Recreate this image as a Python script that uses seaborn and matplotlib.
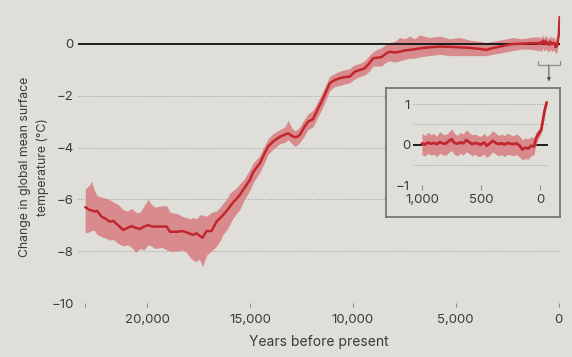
import numpy as np
import pandas as pd
import matplotlib
matplotlib.use("Agg")
import matplotlib.pyplot as plt
import seaborn as sns

# ---------------- data ----------------
years = [23000, 22800, 22700, 22550, 22430, 22200, 22000, 21800, 21630, 21400,
         21150, 20950, 20740, 20540, 20340, 20140, 19940, 19780, 19610, 19300,
         19040, 18880, 18500, 18300, 18070, 17900, 17750, 17590, 17450, 17300,
         17100, 16860, 16620, 16450, 16300, 16100, 15970, 15800, 15650, 15490,
         15300, 15000, 14840, 14510, 14300, 14110, 13850, 13540, 13300, 13140,
         12950, 12820, 12700, 12570, 12350, 12170, 11930, 11720, 11520, 11300,
         11120, 10900, 10630, 10400, 10150, 9900, 9650, 9420, 9200, 9010,
         8800, 8610, 8370, 8200, 7950, 7720, 7480, 7230, 7000, 6750,
         6300, 5780, 5300, 4810, 4300, 3830, 3510, 3200, 2860, 2500,
         2220, 1800, 1410]
temp_mean = [-6.30, -6.40, -6.42, -6.47, -6.44, -6.67, -6.75, -6.86, -6.83, -7.00,
             -7.18, -7.10, -7.03, -7.10, -7.14, -7.05, -6.99, -7.04, -7.05, -7.05,
             -7.05, -7.25, -7.25, -7.22, -7.27, -7.33, -7.37, -7.31, -7.40, -7.48,
             -7.22, -7.22, -6.86, -6.72, -6.60, -6.42, -6.28, -6.10, -5.98, -5.83,
             -5.60, -5.25, -4.95, -4.60, -4.25, -3.95, -3.75, -3.58, -3.50, -3.45,
             -3.55, -3.60, -3.58, -3.51, -3.20, -3.00, -2.90, -2.55, -2.23, -1.85,
             -1.52, -1.40, -1.32, -1.28, -1.26, -1.07, -1.00, -0.94, -0.75, -0.55,
             -0.53, -0.51, -0.36, -0.30, -0.33, -0.30, -0.25, -0.23, -0.20, -0.17,
             -0.13, -0.10, -0.11, -0.13, -0.15, -0.19, -0.23, -0.16, -0.10, -0.04,
             0.00, 0.01, 0.03]
temp_upper = [-5.60, -5.45, -5.30, -5.65, -5.85, -5.92, -5.95, -6.02, -6.10, -6.20,
              -6.40, -6.45, -6.35, -6.50, -6.50, -6.25, -6.00, -6.20, -6.30, -6.25,
              -6.25, -6.50, -6.55, -6.65, -6.70, -6.75, -6.70, -6.75, -6.60, -6.60,
              -6.65, -6.50, -6.45, -6.30, -6.15, -5.95, -5.75, -5.65, -5.55, -5.40,
              -5.25, -4.85, -4.60, -4.30, -3.95, -3.65, -3.45, -3.30, -3.20, -2.95,
              -3.25, -3.35, -3.30, -3.20, -2.90, -2.70, -2.55, -2.25, -1.95, -1.55,
              -1.25, -1.15, -1.05, -1.00, -0.95, -0.80, -0.75, -0.65, -0.45, -0.30,
              -0.20, -0.15, 0.00, 0.05, 0.10, 0.25, 0.20, 0.30, 0.20, 0.35,
              0.25, 0.30, 0.20, 0.25, 0.15, 0.10, 0.05, 0.10, 0.15, 0.20,
              0.25, 0.20, 0.25]
temp_lower = [-7.30, -7.25, -7.20, -7.20, -7.35, -7.45, -7.50, -7.57, -7.55, -7.70,
              -7.80, -7.75, -7.85, -8.05, -7.90, -7.95, -7.75, -7.80, -7.90, -7.85,
              -7.95, -8.00, -8.00, -7.95, -8.05, -8.25, -8.35, -8.40, -8.30, -8.60,
              -8.15, -8.00, -7.80, -7.60, -7.35, -7.15, -6.95, -6.70, -6.55, -6.40,
              -6.05, -5.65, -5.35, -4.95, -4.60, -4.25, -4.05, -3.85, -3.80, -3.70,
              -3.85, -3.95, -3.90, -3.80, -3.55, -3.30, -3.20, -2.85, -2.55, -2.15,
              -1.80, -1.65, -1.60, -1.55, -1.50, -1.35, -1.25, -1.20, -1.05, -0.85,
              -0.85, -0.85, -0.70, -0.65, -0.70, -0.65, -0.60, -0.55, -0.55, -0.50,
              -0.45, -0.40, -0.45, -0.45, -0.45, -0.45, -0.45, -0.40, -0.35, -0.30,
              -0.25, -0.20, -0.20]

# last millennium (inset)
inset_years = [1000, 975, 950, 925, 900, 875, 850, 825, 800, 775, 750, 725, 700,
               675, 650, 625, 600, 575, 550, 525, 500, 475, 450, 425, 400, 375,
               350, 325, 300, 275, 250, 225, 200, 175, 150, 125, 100, 75, 50, 35,
               20, 5, -10, -25, -40, -57]
inset_mean = [0.03, 0.00, 0.05, 0.02, 0.04, 0.01, 0.06, 0.03, 0.02, 0.08, 0.13, 0.04, 0.02,
              0.05, 0.03, 0.11, 0.06, 0.01, 0.04, 0.02, 0.00, 0.05, -0.03, 0.03, 0.09, 0.04,
              0.01, 0.03, 0.00, 0.04, 0.02, 0.01, 0.03, -0.02, -0.12, -0.08, -0.10, -0.03, -0.05, 0.15,
              0.22, 0.30, 0.35, 0.60, 0.85, 1.04]
inset_upper = [0.28, 0.22, 0.30, 0.25, 0.27, 0.20, 0.32, 0.26, 0.24, 0.30, 0.38, 0.28, 0.22,
               0.30, 0.26, 0.36, 0.30, 0.24, 0.26, 0.22, 0.20, 0.28, 0.20, 0.26, 0.34, 0.28,
               0.22, 0.26, 0.22, 0.28, 0.24, 0.22, 0.26, 0.22, 0.12, 0.16, 0.14, 0.20, 0.15, 0.30,
               0.35, 0.40, 0.45, 0.68, 0.92, 1.08]
inset_lower = [-0.25, -0.28, -0.22, -0.26, -0.24, -0.30, -0.22, -0.25, -0.27, -0.20, -0.15, -0.24, -0.28,
               -0.22, -0.26, -0.18, -0.22, -0.28, -0.24, -0.30, -0.28, -0.24, -0.32, -0.26, -0.18, -0.24,
               -0.28, -0.25, -0.30, -0.24, -0.26, -0.28, -0.25, -0.30, -0.38, -0.35, -0.36, -0.28, -0.25, 0.00,
               0.10, 0.20, 0.27, 0.52, 0.78, 1.00]

main_yticks = [0, -2, -4, -6, -8, -10]
main_xticks = [23000, 20000, 15000, 10000, 5000, 0]
main_xticklabels = ["", "20,000", "15,000", "10,000", "5,000", "0"]
inset_yticks = [1, 0, -1]
inset_xticks = [1000, 500, 0]
inset_xticklabels = ["1,000", "500", "0"]

# ---------------- style ----------------
BG = "#dfded9"
LINE = "#c1272d"
BAND = "#d98a8d"
TXT = "#3b3b3b"
GRID = "#9c9c9c"

sns.set_theme(style="white", rc={"axes.facecolor": BG, "figure.facecolor": BG})
plt.rcParams["font.family"] = ["Inter", "DejaVu Sans"]
plt.rcParams["font.size"] = 9.5

W, H = 572, 357
fig = plt.figure(figsize=(W / 100, H / 100), dpi=100, facecolor=BG)


def box(l, t, r, b):
    return [l / W, 1 - b / H, (r - l) / W, (b - t) / H]


full = pd.DataFrame({
    "years": years + inset_years,
    "mean": temp_mean + inset_mean,
    "upper": temp_upper + inset_upper,
    "lower": temp_lower + inset_lower,
})
ins = pd.DataFrame({"years": inset_years, "mean": inset_mean,
                    "upper": inset_upper, "lower": inset_lower})

# ---------------- main axes ----------------
ax = fig.add_axes(box(78, 10.3, 560, 303))
ax.set_facecolor(BG)
ax.fill_between(full["years"], full["lower"], full["upper"], color=BAND, lw=0, zorder=2)
sns.lineplot(data=full, x="years", y="mean", ax=ax, color=LINE, lw=1.8,
             estimator=None, sort=False, zorder=4)
for yv in main_yticks[1:]:
    ax.axhline(yv, color=GRID, lw=0.7, ls=(0, (1, 1.6)), zorder=1)
ax.axhline(0, color="#1c1c1c", lw=1.4, zorder=3)
ax.set_xlim(23350, -70)
ax.set_ylim(-10, 1.3)
ax.set_yticks(main_yticks)
ax.set_yticklabels(["0" if v == 0 else "\u2212%d" % abs(v) for v in main_yticks])
ax.set_xticks(main_xticks)
ax.set_xticklabels(main_xticklabels)
ax.tick_params(axis="y", length=0, pad=3, labelsize=9.5, labelcolor=TXT)
ax.tick_params(axis="x", length=3, width=0.8, color="#8c8c8c", direction="out",
               pad=5, labelsize=9.5, labelcolor=TXT, bottom=True)
for s in ax.spines.values():
    s.set_visible(False)
ax.set_xlabel("")
ax.set_ylabel("")

# bracket + arrow pointing to the inset
ax.plot([1000, 1000, -57, -57], [-0.66, -0.81, -0.81, -0.66], color="#8c8c8c",
        lw=0.9, clip_on=False, zorder=5)
ax.annotate("", xy=(470, -1.45), xytext=(470, -0.81),
            arrowprops=dict(arrowstyle="-|>", color="#5a5a5a", lw=0.8,
                            mutation_scale=5, shrinkA=0, shrinkB=0))

fig.text(34 / W, 1 - 167 / H, "Change in global mean surface\ntemperature (°C)",
         rotation=90, ha="center", va="center", multialignment="center",
         color=TXT, fontsize=8.8, linespacing=1.5)
fig.text(319 / W, 1 - 342 / H, "Years before present", ha="center", va="center",
         color=TXT, fontsize=10)

# ---------------- inset ----------------
frame = fig.add_axes(box(386, 88, 560, 217))
frame.set_facecolor(BG)
frame.set_xticks([])
frame.set_yticks([])
for s in frame.spines.values():
    s.set_color("#6e6e6e")
    s.set_linewidth(1.2)
frame.set_zorder(5)

axi = fig.add_axes(box(413, 100, 548, 185))
axi.set_zorder(6)
axi.patch.set_alpha(0)
axi.fill_between(ins["years"], ins["lower"], ins["upper"], color=BAND, lw=0, zorder=3)
sns.lineplot(data=ins, x="years", y="mean", ax=axi, color=LINE, lw=2.0,
             estimator=None, sort=False, zorder=4)
for yv in [1, 0.5, -0.5, -1]:
    axi.axhline(yv, color=GRID, lw=0.7, ls=(0, (1, 1.6)), zorder=1)
axi.axhline(0, color="#1c1c1c", lw=1.4, zorder=2)
axi.set_xlim(1076, -68)
axi.set_ylim(-1, 1.1)
axi.set_yticks(inset_yticks)
axi.set_yticklabels(["1", "0", "\u22121"])
axi.set_xticks(inset_xticks)
axi.set_xticklabels(inset_xticklabels)
axi.tick_params(axis="y", length=0, pad=2, labelsize=9.5, labelcolor=TXT)
axi.tick_params(axis="x", length=3.5, width=0.8, color="#8c8c8c", direction="out",
                pad=3, labelsize=9.5, labelcolor=TXT, bottom=True)
for s in axi.spines.values():
    s.set_visible(False)
axi.set_xlabel("")
axi.set_ylabel("")

fig.savefig("out.png", dpi=100, facecolor=BG)
